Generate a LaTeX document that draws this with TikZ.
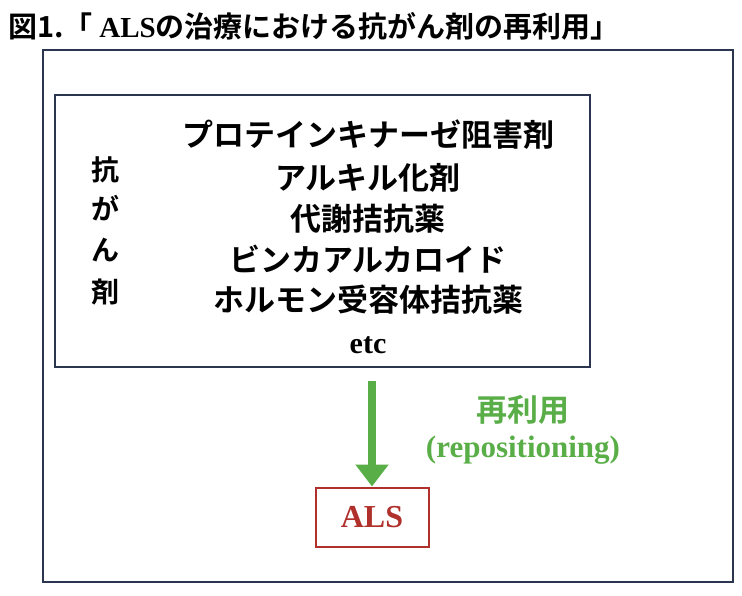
\documentclass[tikz,border=0pt]{standalone}
\usepackage{fontspec}
\setmainfont{Liberation Serif}
\newfontfamily\jp{Noto Sans CJK JP Bold}
\usetikzlibrary{arrows.meta}
\definecolor{navy}{HTML}{2B3550}
\definecolor{grn}{HTML}{5AAE48}
\definecolor{dred}{HTML}{B0302C}
\tikzset{
  box/.style={draw=navy,line width=1.3pt},
  jt/.style={font=\jp\fontsize{31}{31}\selectfont,inner sep=0pt},
  lt/.style={font=\bfseries\fontsize{30}{30}\selectfont,inner sep=0pt}
}
\begin{document}
\begin{tikzpicture}[x=1pt,y=-1pt]
\useasboundingbox (0,0) rectangle (742,596);
\node[anchor=west,inner sep=0pt,font=\jp\fontsize{29}{29}\selectfont] (title) at (8,26) {図1.「 {\rmfamily\bfseries ALS}の治療における抗がん剤の再利用」};
\draw[box] (43,50) rectangle (733,582);
\draw[box] (55,95) rectangle (590,367);
\node[jt,font=\jp\fontsize{28}{28}\selectfont] (v1) at (105,170) {抗};
\node[jt,font=\jp\fontsize{28}{28}\selectfont] (v2) at (105,208) {が};
\node[jt,font=\jp\fontsize{28}{28}\selectfont] (v3) at (105,250) {ん};
\node[jt,font=\jp\fontsize{28}{28}\selectfont] (v4) at (105,292) {剤};
\node[jt] (l1) at (368,135) {プロテインキナーゼ阻害剤};
\node[jt] (l2) at (368,178) {アルキル化剤};
\node[jt] (l3) at (368,219) {代謝拮抗薬};
\node[jt] (l4) at (368,259) {ビンカアルカロイド};
\node[jt] (l5) at (368,300) {ホルモン受容体拮抗薬};
\node[lt] (l6) at (368,345) {etc};
\node[draw=dred,line width=2pt,minimum width=113pt,minimum height=59pt,text=dred,font=\bfseries\fontsize{32}{32}\selectfont] (als) at (372,517) {ALS};
\coordinate (a0) at (372,381);
\draw[grn,line width=8pt,-{Triangle[length=22pt,width=32pt]}] (a0) -- (als.north);
\node[jt,text=grn] (r1) at (523,410) {再利用};
\node[lt,text=grn,font=\bfseries\fontsize{31}{31}\selectfont] (r2) at (523,450) {(repositioning)};
\end{tikzpicture}
\end{document}
